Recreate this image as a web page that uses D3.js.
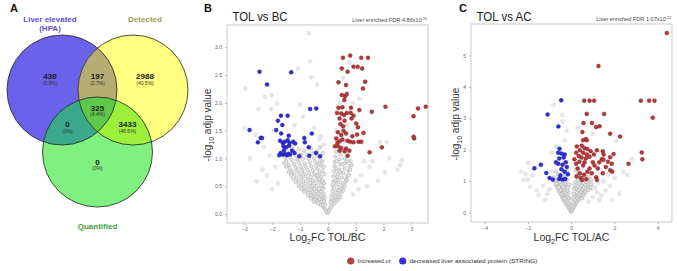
<!DOCTYPE html>
<html><head><meta charset="utf-8">
<script src="https://cdn.jsdelivr.net/npm/d3@7"></script>
<style>body{margin:0;background:#fff}svg{display:block}text{font-family:"Liberation Sans",Arial,sans-serif}</style>
</head><body><div id="chart"></div>
<script>
// ---------- DATA ----------
const vennSets = ["Liver elevated", "Detected", "Quantified"];
const vennSetSub = ["(HPA)", "", ""];
const vennCounts = [430, 197, 2988, 325, 0, 3433, 0];
const vennPcts = ["(5.8%)", "(2.7%)", "(40.5%)", "(4.4%)", "(0%)", "(46.6%)", "(0%)"];

const panelTitles = ["TOL vs BC", "TOL vs AC"];
const fdrMantissa = ["4.86", "1.07"];
const fdrExponent = ["-20", "-22"];
const xLabelSuffix = ["FC TOL/BC", "FC TOL/AC"];
const bcXTicks = [-3, -2, -1, 0, 1, 2, 3];
const bcYTicks = [0, 0.5, 1, 1.5, 2, 2.5, 3];
const acXTicks = [-4, -2, 0, 2, 4];
const acYTicks = [0, 1, 2, 3, 4, 5];
const legendLabels = ["Increased or", "decreased liver associated protein (STRING)"];

// TOL vs BC
const bcRed = [[0.54,2.81],[0.80,2.85],[1.20,2.81],[1.44,2.81],[0.50,2.62],[0.71,2.56],[0.92,2.65],[1.07,2.65],[1.23,2.62],[0.38,2.37],[1.34,2.38],[0.65,2.32],[1.26,2.26],[0.50,2.14],[0.62,2.12],[0.68,2.16],[0.59,2.05],[0.38,1.91],[0.52,1.92],[0.83,1.91],[0.33,1.82],[0.48,1.81],[0.58,1.78],[0.68,1.82],[0.82,1.82],[0.92,1.77],[1.13,1.87],[1.58,1.84],[2.07,1.93],[3.24,1.90],[3.52,1.93],[3.08,1.76],[0.42,1.72],[0.60,1.68],[0.85,1.72],[1.02,1.63],[1.08,1.56],[0.55,1.58],[0.36,1.47],[0.48,1.42],[0.65,1.45],[0.88,1.40],[1.05,1.43],[1.28,1.46],[0.30,1.36],[0.42,1.31],[0.52,1.34],[0.70,1.32],[0.80,1.30],[0.92,1.29],[1.10,1.30],[1.20,1.30],[0.25,1.22],[0.36,1.22],[0.47,1.19],[0.65,1.18],[0.42,1.14],[0.60,1.13],[0.77,1.14],[0.71,1.05],[1.50,1.11],[1.94,1.20],[3.08,1.39],[3.10,1.36],[0.34,1.28],[0.56,1.50],[0.45,1.62]];
const bcBlue = [[-2.46,2.56],[-1.32,2.55],[-2.19,2.33],[-0.64,1.89],[-0.42,1.90],[-1.69,1.77],[-1.45,1.77],[-1.80,1.68],[-1.64,1.60],[-2.82,1.51],[-1.86,1.51],[-1.68,1.45],[-1.41,1.41],[-0.58,1.45],[-2.42,1.37],[-2.37,1.37],[-2.52,1.29],[-0.85,1.37],[-0.83,1.29],[-1.72,1.32],[-1.62,1.28],[-1.55,1.30],[-1.45,1.33],[-1.38,1.28],[-1.25,1.30],[-1.18,1.27],[-1.60,1.22],[-1.50,1.20],[-1.40,1.23],[-0.69,1.20],[-1.70,1.10],[-1.63,1.07],[-1.55,1.08],[-1.48,1.06],[-1.42,1.08],[-1.36,1.07],[-1.75,1.06],[-1.03,1.04],[-0.67,1.05],[-0.43,1.10],[-0.28,1.04],[-1.29,1.14],[-1.58,1.15],[-1.20,1.10]];
const bcGrayOuter = [[-0.69,3.25],[-0.64,2.75],[-1.08,2.62],[-0.61,2.46],[-0.39,2.33],[-2.97,2.26],[-2.26,2.11],[-2.02,2.14],[-1.84,1.99],[-2.50,1.89],[-2.04,1.89],[-1.00,1.97],[-3.00,1.55],[-2.60,1.42],[-2.30,1.21],[-2.10,1.05],[-2.35,0.80],[-2.56,0.59],[-2.20,0.70],[-1.90,0.85],[-1.80,0.55],[-2.00,0.45],[-1.70,1.30],[-1.20,1.60],[-0.90,1.75],[-0.50,1.55],[-0.30,1.35],[-1.95,1.50],[-2.80,1.00],[-0.25,1.40],[-0.15,1.25],[0.78,2.73],[1.12,2.07],[0.90,2.00],[0.55,2.45],[1.87,1.29],[2.12,1.29],[2.66,0.97],[2.60,0.88],[2.50,0.80],[1.30,0.95],[1.50,0.85],[1.20,0.70],[1.80,0.60],[1.00,0.60],[1.10,0.45],[1.40,0.50],[0.90,0.35],[2.05,0.75],[1.60,0.95],[2.20,1.00],[0.70,1.60],[0.45,2.00],[0.30,1.50],[0.60,1.30]];
const bcGrayDense = [[-0.02,0.02],[0.02,0.04],[-0.06,0.05],[0.05,0.08],[-0.10,0.09],[0.09,0.11],[-0.15,0.12],[-0.20,0.15],[0.13,0.14],[-0.27,0.17],[-0.10,0.17],[0.17,0.18],[0.24,0.20],[-0.33,0.21],[-0.22,0.22],[-0.14,0.23],[0.10,0.22],[-0.40,0.24],[0.20,0.25],[0.30,0.26],[-0.47,0.27],[-0.30,0.27],[-0.18,0.29],[0.13,0.29],[0.37,0.30],[-0.55,0.31],[-0.40,0.31],[0.25,0.32],[-0.25,0.33],[-0.62,0.34],[-0.48,0.35],[0.15,0.35],[0.42,0.35],[-0.34,0.37],[-0.15,0.37],[-0.70,0.38],[0.30,0.38],[-0.56,0.40],[0.48,0.40],[-0.42,0.41],[-0.24,0.41],[0.17,0.42],[-0.78,0.43],[0.36,0.43],[-0.63,0.44],[-0.50,0.46],[-0.32,0.45],[0.52,0.46],[-0.16,0.47],[0.22,0.47],[-0.86,0.48],[-0.70,0.49],[0.40,0.49],[-0.56,0.51],[-0.40,0.50],[-0.24,0.52],[0.56,0.52],[0.16,0.52],[-0.95,0.53],[0.30,0.54],[-0.80,0.55],[-0.64,0.56],[-0.47,0.56],[-0.30,0.57],[0.45,0.57],[0.62,0.58],[-1.04,0.59],[-0.88,0.60],[0.20,0.59],[-0.18,0.60],[-0.72,0.62],[-0.55,0.61],[0.35,0.62],[-0.38,0.63],[0.66,0.63],[-1.12,0.65],[-0.95,0.66],[0.50,0.66],[-0.80,0.68],[-0.62,0.67],[-0.24,0.67],[0.20,0.68],[-0.45,0.69],[0.70,0.69],[-1.20,0.71],[-1.02,0.72],[0.36,0.72],[-0.86,0.73],[-0.68,0.74],[-0.50,0.73],[-0.30,0.74],[0.56,0.74],[-0.20,0.78],[-1.28,0.77],[-1.10,0.78],[0.22,0.77],[-0.92,0.79],[0.74,0.78],[-0.74,0.80],[-0.55,0.79],[0.40,0.80],[-0.37,0.81],[-1.36,0.83],[-1.16,0.84],[0.60,0.83],[-0.98,0.85],[-0.80,0.86],[0.24,0.86],[-0.60,0.86],[-0.42,0.87],[-0.25,0.88],[0.78,0.87],[-1.42,0.89],[0.44,0.89],[-1.22,0.90],[-1.04,0.92],[-0.84,0.91],[-0.65,0.93],[0.62,0.92],[-0.46,0.94],[0.25,0.94],[-1.50,0.95],[-0.28,0.96],[-1.30,0.97],[0.82,0.95],[-1.10,0.98],[0.42,0.98],[-0.90,0.99],[-0.70,1.00],[-0.50,1.01],[0.60,1.00],[-1.55,1.02],[-1.36,1.03],[0.27,1.03],[-1.16,1.05],[-0.32,1.04],[-0.96,1.07],[-0.75,1.07],[0.46,1.07],[-0.55,1.09],[-1.45,1.10],[-1.25,1.12],[0.30,1.12],[-0.40,1.13],[-0.85,1.14],[-1.05,1.17],[0.50,1.18],[-0.60,1.18],[-0.28,1.20],[-1.30,1.20],
  [-0.36,0.19],[-0.50,0.22],[-0.60,0.28],[-0.72,0.33],[-0.85,0.40],[-0.95,0.45],[-1.05,0.50],[-1.15,0.57],[-1.25,0.63],[-1.33,0.70],[-1.42,0.76],[-1.50,0.85],[-1.58,0.92],[-0.12,0.30],[-0.20,0.45],[-0.14,0.55],[-0.30,0.62],[-0.12,0.72],[-0.38,0.70],[-0.15,0.85],[-0.33,0.90],[-0.20,0.95],[-0.38,1.07],[-0.18,1.10],[0.35,0.25],[0.45,0.30],[0.55,0.42],[0.60,0.50],[0.68,0.60],[0.76,0.70],[0.80,0.80],[0.86,0.88],[0.70,0.95],[0.52,0.90],[0.32,0.95],[0.34,0.67],[0.27,0.60],[0.45,0.76],[0.30,0.82]];

// TOL vs AC
const acRed = [[4.42,5.71],[1.26,4.66],[0.60,3.56],[0.85,3.56],[1.06,3.56],[3.22,3.56],[3.60,3.56],[3.85,3.56],[3.77,3.02],[0.72,3.14],[1.52,3.14],[0.57,2.85],[0.96,2.85],[1.15,2.72],[1.31,2.75],[0.52,2.56],[1.80,2.51],[2.26,2.42],[0.55,2.30],[0.68,2.34],[3.26,1.91],[3.29,1.70],[2.65,1.55],[0.49,2.13],[0.62,2.05],[0.75,2.02],[0.40,1.98],[0.55,1.90],[0.72,1.85],[0.35,1.80],[0.48,1.75],[0.68,1.72],[0.85,1.78],[1.19,1.98],[1.46,1.95],[1.50,1.85],[1.42,1.70],[1.80,1.76],[1.88,1.55],[1.96,1.86],[1.60,1.45],[1.80,1.35],[1.90,1.30],[1.46,1.25],[1.23,1.40],[1.00,1.60],[1.08,1.50],[0.85,1.40],[0.55,1.50],[0.30,1.40],[0.23,1.55],[0.40,1.25],[0.60,1.20],[0.75,1.30],[0.25,1.15],[0.45,1.10],[1.15,1.12],[0.15,1.70],[0.23,1.90],[0.72,2.30],[0.26,2.10],[1.49,1.68],[1.19,1.04],[0.50,1.04],[0.70,1.06],[0.95,1.25],[1.30,1.60],[1.70,1.62],[0.90,1.95],[0.38,1.62],[0.62,1.60],[1.05,1.85]];
const acBlue = [[-0.46,3.57],[-1.09,3.12],[-0.59,2.74],[-0.54,2.03],[-0.60,1.90],[-0.45,1.88],[-0.30,1.85],[-0.35,1.75],[-0.55,1.72],[-0.25,1.60],[-0.60,1.55],[-0.40,1.52],[-0.20,1.45],[-0.45,1.38],[-0.30,1.30],[-0.15,1.22],[-0.50,1.18],[-1.40,1.52],[-1.70,1.41],[-1.15,1.26],[-1.00,1.10],[-0.85,1.05],[-0.55,1.07],[-0.40,1.05],[-0.27,1.07],[-0.70,1.60]];
const acGrayOuter = [[-2.20,1.04],[-2.00,1.58],[-0.82,3.43],[-0.40,3.10],[-0.40,2.90],[-2.10,1.23],[-1.80,1.18],[-2.00,1.05],[-1.90,0.82],[-1.60,0.70],[-1.20,0.40],[-1.50,0.55],[-1.30,0.85],[-1.00,0.75],[-0.90,1.30],[-0.75,1.55],[-0.70,2.10],[-0.90,1.90],[-0.30,2.30],[-0.20,2.60],[-1.10,0.60],[-2.30,1.30],[2.80,1.71],[2.10,2.28],[2.23,0.60],[1.80,0.85],[1.60,0.70],[1.40,0.55],[1.30,0.40],[1.10,0.80],[1.20,0.65],[1.00,0.50],[1.50,1.00],[2.00,1.10],[2.40,1.30],[2.60,1.20],[1.70,1.20],[0.90,1.00],[1.00,2.50],[0.30,2.70],[0.80,0.35],[1.90,0.40],[0.95,0.75],[1.25,0.95]];
const acGrayDense = [[0.00,0.03],[-0.04,0.07],[0.04,0.08],[-0.08,0.12],[0.08,0.13],[-0.12,0.17],[0.03,0.16],[0.12,0.18],[-0.17,0.22],[-0.06,0.22],[0.16,0.23],[0.06,0.24],[-0.22,0.27],[-0.10,0.28],[0.20,0.28],[0.10,0.30],[-0.27,0.32],[-0.15,0.33],[0.25,0.33],[0.14,0.36],[-0.32,0.37],[-0.20,0.38],[0.30,0.38],[-0.08,0.40],[0.20,0.41],[-0.36,0.42],[0.36,0.43],[-0.25,0.44],[0.10,0.45],[-0.12,0.47],[-0.40,0.48],[0.27,0.48],[0.42,0.49],[-0.30,0.50],[0.15,0.52],[-0.18,0.53],[-0.45,0.54],[0.34,0.54],[0.48,0.56],[-0.35,0.57],[0.22,0.58],[-0.23,0.59],[-0.50,0.61],[0.40,0.60],[0.55,0.62],[-0.40,0.63],[0.28,0.64],[-0.12,0.64],[-0.28,0.66],[-0.55,0.67],[0.46,0.67],[0.62,0.69],[-0.45,0.70],[0.34,0.71],[-0.18,0.71],[-0.33,0.73],[-0.60,0.74],[0.52,0.74],[0.68,0.76],[0.22,0.76],[-0.50,0.77],[0.40,0.78],[-0.25,0.79],[-0.65,0.81],[0.58,0.81],[-0.38,0.82],[0.75,0.83],[0.30,0.84],[-0.55,0.85],[0.46,0.86],[-0.20,0.87],[-0.70,0.88],[0.65,0.88],[-0.45,0.90],[0.82,0.90],[0.36,0.92],[-0.30,0.93],[-0.60,0.95],[0.55,0.95],[0.20,0.97],[-0.75,0.98],[0.72,0.98],[-0.40,1.00],[0.45,1.01],[-0.20,1.03],[0.30,1.05],[-0.65,1.05],[0.62,1.06],[-0.50,1.10],[0.40,1.12],[-0.30,1.14],[-0.80,1.12],[0.25,1.18],[-0.60,1.20],[0.55,1.20],[-0.40,1.25],[0.35,1.28],[-0.70,1.30],[-0.20,1.32],[0.20,1.35],
  [-0.30,0.45],[-0.42,0.60],[-0.50,0.72],[-0.58,0.80],[-0.68,0.92],[-0.72,1.02],[-0.15,0.80],[-0.10,0.90],[-0.52,0.98],[-0.35,1.08],[0.50,0.45],[0.58,0.55],[0.66,0.65],[0.78,0.72],[0.88,0.80],[0.95,0.90],[0.90,1.05],[0.80,1.15],[0.50,1.10],[0.10,0.60],[0.12,0.75],[0.15,0.88]];

// ---------- DRAW ----------
const W = 677, H = 271;
const svg = d3.select("#chart").append("svg").attr("width", W).attr("height", H);
const FONT = '"Liberation Sans",Arial,sans-serif';

[["A", 10, 12], ["B", 204, 12], ["C", 459, 12]].forEach(([t, x, y]) =>
  svg.append("text").attr("x", x).attr("y", y).attr("font-size", 11).attr("font-weight", "bold").attr("fill", "#111").text(t));

// ---------- Venn ----------
const R = 55;
const circles = [
  {cx: 62, cy: 90, fill: "#6b62ec"},
  {cx: 133, cy: 90, fill: "#ffff80"},
  {cx: 97.5, cy: 152, fill: "#80f080"}
];
const defs = svg.append("defs");
circles.forEach((c, i) => {
  defs.append("clipPath").attr("id", "vc" + i).append("circle").attr("cx", c.cx).attr("cy", c.cy).attr("r", R);
});
const vg = svg.append("g");
circles.forEach(c => vg.append("circle").attr("cx", c.cx).attr("cy", c.cy).attr("r", R).attr("fill", c.fill));
const pair = (a, b, col) => vg.append("g").attr("clip-path", `url(#vc${a})`)
  .append("circle").attr("cx", circles[b].cx).attr("cy", circles[b].cy).attr("r", R).attr("fill", col);
pair(0, 1, "#b5ad72");
pair(0, 2, "#3aa88a");
pair(1, 2, "#9cf03c");
vg.append("g").attr("clip-path", "url(#vc0)").append("g").attr("clip-path", "url(#vc1)")
  .append("circle").attr("cx", circles[2].cx).attr("cy", circles[2].cy).attr("r", R).attr("fill", "#5ec84a");
circles.forEach(c => vg.append("circle").attr("cx", c.cx).attr("cy", c.cy).attr("r", R)
  .attr("fill", "none").attr("stroke", "#222").attr("stroke-width", 0.8));

const regionPos = [[50, 77], [97.5, 77], [145, 77], [97.5, 108.5], [67.5, 125], [127.5, 125], [97.5, 162.5]];
vennCounts.forEach((v, i) => {
  const [x, y] = regionPos[i];
  vg.append("text").attr("x", x).attr("y", y + 2).attr("text-anchor", "middle").attr("font-size", 8)
    .attr("font-weight", "bold").attr("fill", "#1a1a1a").text(v);
  vg.append("text").attr("x", x).attr("y", y + 7.6).attr("text-anchor", "middle").attr("font-size", 5)
    .attr("fill", "#333").text(vennPcts[i]);
});
const setLabelPos = [[50, 22], [145, 22], [97.5, 229]];
const setLabelCol = ["#5a4fd6", "#a39c55", "#3f9f3f"];
vennSets.forEach((s, i) => {
  vg.append("text").attr("x", setLabelPos[i][0]).attr("y", setLabelPos[i][1]).attr("text-anchor", "middle")
    .attr("font-size", 8).attr("font-weight", "bold").attr("fill", setLabelCol[i]).text(s);
  if (vennSetSub[i]) vg.append("text").attr("x", setLabelPos[i][0]).attr("y", setLabelPos[i][1] + 9).attr("text-anchor", "middle")
    .attr("font-size", 8).attr("font-weight", "bold").attr("fill", setLabelCol[i]).text(vennSetSub[i]);
});

// ---------- Volcano panels ----------
function volcano(cfg) {
  const {x0, x1, y0, y1, xDom, yDom, xTicks, yTicks, yFmt, red, blue, grayOuter, grayDense, idx, ylx} = cfg;
  const x = d3.scaleLinear().domain(xDom).range([x0, x1]);
  const y = d3.scaleLinear().domain(yDom).range([y1, y0]);
  const g = svg.append("g");
  g.append("rect").attr("x", x0).attr("y", y0).attr("width", x1 - x0).attr("height", y1 - y0)
    .attr("fill", "#fff").attr("stroke", "#c9c9c9").attr("stroke-width", 1);
  const xa = g.append("g").attr("transform", `translate(0,${y1})`)
    .call(d3.axisBottom(x).tickValues(xTicks).tickSize(2).tickPadding(2).tickFormat(d3.format("d")));
  const ya = g.append("g").attr("transform", `translate(${x0},0)`)
    .call(d3.axisLeft(y).tickValues(yTicks).tickSize(2).tickPadding(3).tickFormat(yFmt));
  [xa, ya].forEach(a => {
    a.select(".domain").remove();
    a.selectAll("line").attr("stroke", "#bbb");
    a.selectAll("text").attr("font-size", 5).attr("fill", "#666").attr("font-family", FONT);
  });
  g.append("g").selectAll("circle").data(grayOuter).join("circle")
    .attr("cx", d => x(d[0])).attr("cy", d => y(d[1])).attr("r", 2.4).attr("fill", "#e6e6e6");
  g.append("g").selectAll("circle").data(grayDense).join("circle")
    .attr("cx", d => x(d[0])).attr("cy", d => y(d[1])).attr("r", 1.75).attr("fill", "#e4e4e4")
    .attr("stroke", "#a2a2a2").attr("stroke-width", 0.45);
  g.append("g").selectAll("circle").data(blue).join("circle")
    .attr("cx", d => x(d[0])).attr("cy", d => y(d[1])).attr("r", 2).attr("fill", "#2e2ed6")
    .attr("stroke", "#1c1c9a").attr("stroke-width", 0.4);
  g.append("g").selectAll("circle").data(red).join("circle")
    .attr("cx", d => x(d[0])).attr("cy", d => y(d[1])).attr("r", 2).attr("fill", "#b23a3a")
    .attr("stroke", "#861e1e").attr("stroke-width", 0.4);
  g.append("text").attr("x", x0 + 5.5).attr("y", 21).attr("font-size", 13.5).attr("fill", "#222")
    .attr("textLength", 55).attr("lengthAdjust", "spacingAndGlyphs").text(panelTitles[idx]);
  const f = g.append("text").attr("x", x1 - 1).attr("y", y0 - 3).attr("text-anchor", "end")
    .attr("font-size", 5.6).attr("fill", "#444");
  f.append("tspan").text("Liver enriched FDR " + fdrMantissa[idx] + "x10");
  f.append("tspan").attr("dy", -2.2).attr("font-size", 3.6).text(fdrExponent[idx]);
  const xl = g.append("text").attr("x", (x0 + x1) / 2).attr("y", 241).attr("text-anchor", "middle")
    .attr("font-size", 10.5).attr("fill", "#333");
  xl.append("tspan").text("Log");
  xl.append("tspan").attr("dy", 2.5).attr("font-size", 7).text("2");
  xl.append("tspan").attr("dy", -2.5).text(xLabelSuffix[idx]);
  const yl = g.append("text").attr("transform", `translate(${ylx},${(y0 + y1) / 2 + 1}) rotate(-90)`)
    .attr("text-anchor", "middle").attr("font-size", 10).attr("fill", "#333");
  yl.append("tspan").text("-log");
  yl.append("tspan").attr("dy", 2.5).attr("font-size", 7).text("10");
  yl.append("tspan").attr("dy", -2.5).text(" adjp value");
}

volcano({idx: 0, x0: 227, x1: 428, y0: 25, y1: 223, xDom: [-3.63, 3.6], yDom: [-0.16, 3.4], ylx: 211,
  xTicks: bcXTicks, yTicks: bcYTicks, yFmt: d3.format(".1f"),
  red: bcRed, blue: bcBlue, grayOuter: bcGrayOuter, grayDense: bcGrayDense});
volcano({idx: 1, x0: 471, x1: 672, y0: 24, y1: 222, xDom: [-4.63, 4.66], yDom: [-0.3, 6.0], ylx: 459,
  xTicks: acXTicks, yTicks: acYTicks, yFmt: d3.format("d"),
  red: acRed, blue: acBlue, grayOuter: acGrayOuter, grayDense: acGrayDense});

// ---------- Legend ----------
const lg = svg.append("g").attr("font-size", 6).attr("fill", "#333");
lg.append("circle").attr("cx", 350.7).attr("cy", 261).attr("r", 3.6).attr("fill", "#b84444");
lg.append("text").attr("x", 357.5).attr("y", 263).text(legendLabels[0]);
lg.append("circle").attr("cx", 402.7).attr("cy", 261).attr("r", 3.6).attr("fill", "#3030e0");
lg.append("text").attr("x", 409.5).attr("y", 263).attr("textLength", 128).attr("lengthAdjust", "spacingAndGlyphs").text(legendLabels[1]);
</script></body></html>
